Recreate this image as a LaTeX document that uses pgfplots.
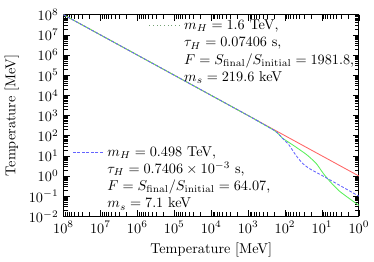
\documentclass[border=0pt]{standalone}
\usepackage{pgfplots}
\pgfplotsset{compat=1.18}
\definecolor{lred}{RGB}{255,100,100}
\definecolor{lblue}{RGB}{100,100,255}
\definecolor{lgreen}{RGB}{90,240,90}
\begin{document}
\begin{tikzpicture}
\begin{axis}[
  scale only axis,
  width=207pt, height=141.3pt,
  xmode=log, ymode=log,
  x dir=reverse,
  xmin=1, xmax=1e8, ymin=1e-2, ymax=1e8,
  xtickten={0,...,8}, ytickten={-2,...,8},
  xlabel={Temperature [MeV]},
  ylabel={Temperature [MeV]},
  tick align=inside,
  every tick/.style={black, line width=0.4pt},
  axis line style={line width=0.6pt},
  clip=false,
]
\addplot[lred, line width=0.6pt] coordinates {(1e8,1e8) (1,1)};
\addplot[lgreen, line width=0.6pt, smooth, tension=0.4] coordinates {
(1e8,1e8) (1000,1000) (637,624) (199.5,186) (150,122) (117.8,76)
(77.3,45.5) (50.7,27.2) (33.2,15.9) (24,10.2) (14.3,4.2) (9.35,1.4)
(6.14,0.55) (3.26,0.17) (1,0.035)};
\addplot[lblue, line width=0.6pt, dash pattern=on 2pt off 1.2pt, smooth, tension=0.4] coordinates {
(1e8,1e8) (1000,1000) (637,624) (199.5,186) (150,122) (117.8,76)
(77.3,33.7) (50.7,10.6) (33.2,4.18) (21.8,2.33) (9.35,1.0) (3.26,0.34) (1,0.1)};
% top legend block
\node (tb) [anchor=north east, align=left, inner sep=0] at (rel axis cs:0.985,0.975)
  {$m_H = 1.6$ TeV,\\ $\tau_H = 0.07406$ s,\\ $F = S_{\mathrm{final}}/S_{\mathrm{initial}} = 1981.8$,\\ $m_s = 219.6$ keV};
\draw[gray!70!lgreen, dotted, line width=0.6pt] ([xshift=-3pt,yshift=-4pt]tb.north west) -- ++(-22pt,0pt);
% bottom legend block
\node (bb) [anchor=south west, align=left, inner sep=0] at (rel axis cs:0.148,0.03)
  {$m_H = 0.498$ TeV,\\ $\tau_H = 0.7406\times10^{-3}$ s,\\ $F = S_{\mathrm{final}}/S_{\mathrm{initial}} = 64.07$,\\ $m_s = 7.1$ keV};
\draw[lblue, dash pattern=on 2pt off 1.2pt, line width=0.6pt] ([xshift=-3pt,yshift=-4pt]bb.north west) -- ++(-22pt,0pt);
\end{axis}
\path (current axis.south west) ++(-42pt,-27.7pt);
\path (current axis.north east) ++(7pt,10.3pt);
\end{tikzpicture}
\end{document}
